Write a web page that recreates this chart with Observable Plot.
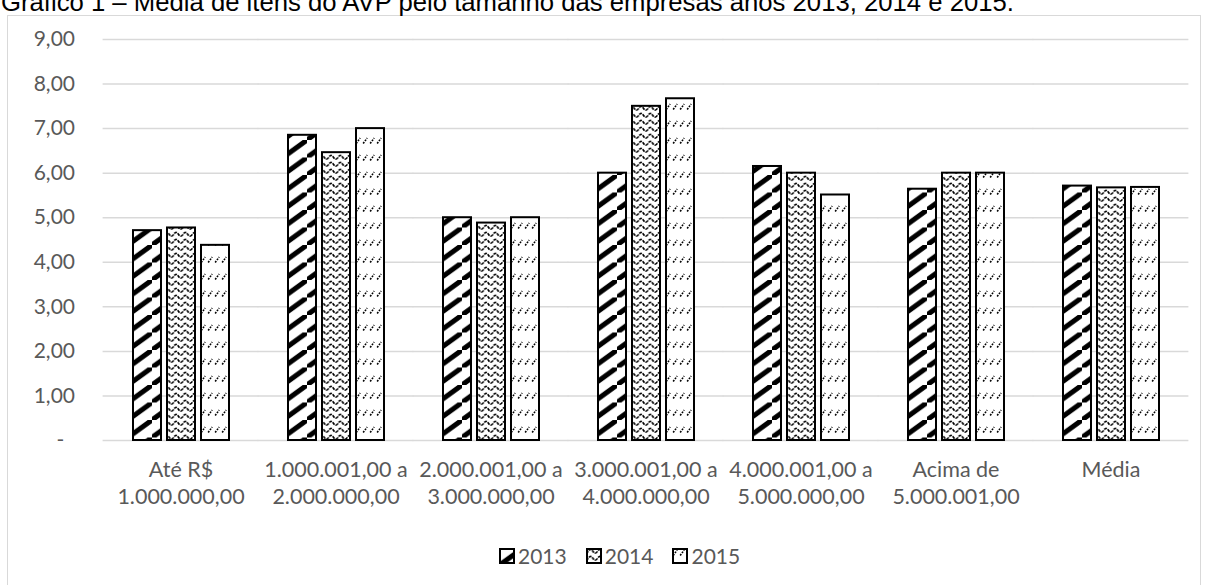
<!DOCTYPE html>
<html>
<head>
<meta charset="utf-8">
<script src="https://cdn.jsdelivr.net/npm/d3@7"></script>
<script src="https://cdn.jsdelivr.net/npm/@observablehq/plot@0.6"></script>
<style>
  body { margin: 0; background: #fff; width: 1209px; height: 585px; overflow: hidden; position: relative; font-family: Lato, sans-serif; }
  #title { position: absolute; left: 1px; top: -12.5px; font: 25.7px "Liberation Sans", Arial, sans-serif; color: #000; white-space: nowrap; }
  #frame { position: absolute; left: 7px; top: 15px; width: 1194px; height: 620px; border: 1.5px solid #d9d9d9; box-sizing: border-box; background: #fff; }
  #chart { position: absolute; left: 0; top: 0; }
  #legend { position: absolute; top: 543px; left: 499px; display: flex; align-items: center; font-size: 21px; color: #595959; }
  #legend .item { display: flex; align-items: center; margin-right: 19px; }
  #legend svg { margin-right: 3px; }
</style>
</head>
<body>
<svg width="0" height="0" style="position:absolute">
  <defs>
    <!-- wide upward diagonal stripes -->
    <pattern id="p2013" patternUnits="userSpaceOnUse" width="24" height="17.5">
      <rect width="24" height="17.5" fill="#fff"/>
      <path d="M-12,26.25 L12,8.75 M0,17.5 L24,0 M12,8.75 L36,-8.75" stroke="#000" stroke-width="5" fill="none"/>
    </pattern>
    <!-- wave rows -->
    <pattern id="p2014" patternUnits="userSpaceOnUse" width="9.3" height="7">
      <rect width="9.3" height="7" fill="#fff"/>
      <path d="M0,5.2 C2.2,5.2 2.6,1.4 4.65,1.4 C6.7,1.4 7.1,5.2 9.3,5.2" stroke="#000" stroke-width="1.6" fill="none" stroke-dasharray="3 1"/>
    </pattern>
    <!-- rows of small dotted slashes -->
    <pattern id="p2015" patternUnits="userSpaceOnUse" width="7" height="17">
      <rect width="7" height="17" fill="#fff"/>
      <path d="M1.2,7.5 L5.2,2" stroke="#000" stroke-width="1.6" fill="none" stroke-dasharray="1.8 1.2"/>
    </pattern>
  </defs>
</svg>
<div id="frame"></div>
<div id="title">Gráfico 1 – Média de itens do AVP pelo tamanho das empresas anos 2013, 2014 e 2015.</div>
<div id="chart"></div>
<div id="legend"></div>
<script>
// Company size brackets (revenue ranges)
const categories = [
  "Até R$\n1.000.000,00",
  "1.000.001,00 a\n2.000.000,00",
  "2.000.001,00 a\n3.000.000,00",
  "3.000.001,00 a\n4.000.000,00",
  "4.000.001,00 a\n5.000.000,00",
  "Acima de\n5.000.001,00",
  "Média"
];
const years = ["2013", "2014", "2015"];

// Average number of AVP items per bracket and year
const v2013 = [4.71, 6.85, 5.00, 6.00, 6.15, 5.64, 5.71];
const v2014 = [4.77, 6.46, 4.88, 7.50, 6.00, 6.00, 5.67];
const v2015 = [4.38, 7.00, 5.00, 7.67, 5.51, 6.00, 5.68];

const yTicks = [0, 1, 2, 3, 4, 5, 6, 7, 8, 9];

const series = {"2013": v2013, "2014": v2014, "2015": v2015};
const rows = categories.flatMap((cat, i) => years.map(year => ({cat, year, value: series[year][i]})));

// accounting-style format: zero shown as a dash, set in from the right edge
const fmt = v => v === 0 ? "-\u00a0\u00a0" : v.toFixed(2).replace(".", ",");

const chart = Plot.plot({
  width: 1209,
  height: 520,
  marginLeft: 100,
  marginRight: 19,
  marginTop: 39,
  marginBottom: 80,
  style: {fontFamily: "Lato, sans-serif", fontSize: "21px", color: "#595959", background: "transparent", overflow: "visible"},
  fx: {domain: categories, paddingInner: 0.377, paddingOuter: 0.19, label: null},
  x: {domain: years, paddingInner: 0.19, paddingOuter: 0, axis: null},
  y: {domain: [0, 9], label: null},
  color: {domain: years, range: years.map(y => `url(#p${y})`)},
  marks: [
    // horizontal gridlines, stretched across the gaps between groups
    Plot.ruleY(yTicks, {stroke: "#d9d9d9", strokeWidth: 1.5, insetLeft: -29.4, insetRight: -29.4}),
    Plot.barY(rows, {fx: "cat", x: "year", y: "value", fill: "year", stroke: "#000", strokeWidth: 2}),
    Plot.axisY(yTicks, {tickSize: 0, tickPadding: 57.5, tickFormat: fmt, fontSize: 21, fill: "#595959"}),
    Plot.axisFx({anchor: "bottom", tickSize: 0, tickPadding: 17, fontSize: 21.5, lineHeight: 1.26, fill: "#595959", label: null})
  ]
});
document.getElementById("chart").appendChild(chart);

// legend
const legend = d3.select("#legend");
years.forEach(y => {
  const item = legend.append("div").attr("class", "item");
  const sw = item.append("svg").attr("width", 16).attr("height", 16);
  sw.append("rect").attr("x", 1).attr("y", 1).attr("width", 14).attr("height", 14)
    .attr("fill", `url(#p${y})`).attr("stroke", "#000").attr("stroke-width", 2);
  item.append("span").text(y);
});
</script>
</body>
</html>
